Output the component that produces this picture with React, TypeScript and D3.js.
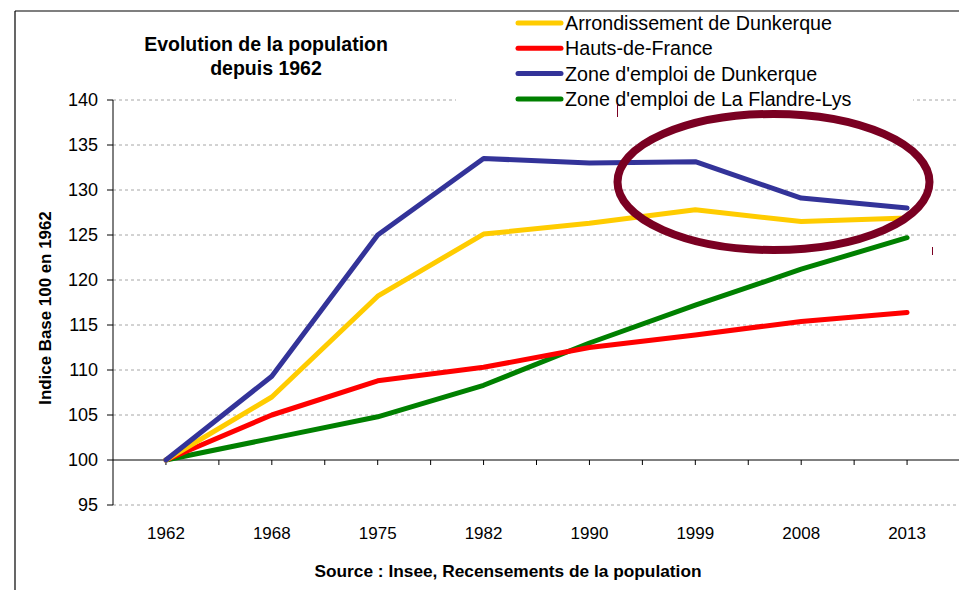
import React from "react";
import * as d3 from "d3";

const years = ["1962", "1968", "1975", "1982", "1990", "1999", "2008", "2013"];
const arrondissementDunkerque = [100, 107.0, 118.2, 125.1, 126.3, 127.8, 126.5, 126.9];
const hautsDeFrance = [100, 105.0, 108.8, 110.3, 112.5, 113.9, 115.4, 116.4];
const zoneDunkerque = [100, 109.3, 125.0, 133.5, 133.0, 133.15, 129.1, 128.0];
const zoneFlandreLys = [100, 102.4, 104.8, 108.3, 113.0, 117.2, 121.2, 124.7];
const yTicks = [95, 100, 105, 110, 115, 120, 125, 130, 135, 140];

const seriesNames = [
  "Arrondissement de Dunkerque",
  "Hauts-de-France",
  "Zone d'emploi de Dunkerque",
  "Zone d'emploi de La Flandre-Lys",
];
const seriesValues = [arrondissementDunkerque, hautsDeFrance, zoneDunkerque, zoneFlandreLys];
const seriesColors = ["#FFCC00", "#FF0000", "#333399", "#008000"];
// drawing order (back to front)
const drawOrder = [3, 1, 0, 2];

export default function App() {
  const W = 959, H = 590;
  const x = d3.scaleBand<string>().domain(years).range([113, 960]).padding(0);
  const y = d3.scaleLinear().domain([95, 140]).range([505, 100]);
  const cx = (yr: string) => (x(yr) as number) + x.bandwidth() / 2;
  const line = d3
    .line<number>()
    .x((_, i) => cx(years[i]))
    .y((v) => y(v));
  const halfTicks = d3.range(1, years.length * 2).map((k) => 113 + (k * x.bandwidth()) / 2);
  const font = "Liberation Sans, Arial, sans-serif";

  return (
    <svg
      width={W}
      height={H}
      style={{ position: "absolute", left: 0, top: 0, background: "#fff" }}
      fontFamily={font}
    >
      <rect x={0} y={0} width={W} height={H} fill="#fff" />
      {/* outer border */}
      <line x1={15} y1={11} x2={W} y2={11} stroke="#000" strokeWidth={1.2} />
      <line x1={15} y1={11} x2={15} y2={H} stroke="#000" strokeWidth={1.2} />

      {/* gridlines */}
      {yTicks
        .filter((t) => t !== 100)
        .map((t) => (
          <line
            key={"g" + t}
            x1={113}
            x2={958}
            y1={y(t)}
            y2={y(t)}
            stroke="#a6a6a6"
            strokeWidth={1}
            strokeDasharray="3,3"
          />
        ))}

      {/* legend background */}
      <rect x={456} y={12} width={457} height={98} fill="#fff" />

      {/* y axis */}
      <line x1={113} x2={113} y1={y(140)} y2={y(95)} stroke="#000" strokeWidth={1} />
      {yTicks.map((t) => (
        <g key={"yt" + t}>
          <line x1={107} x2={113} y1={y(t)} y2={y(t)} stroke="#000" />
          <text x={98} y={y(t)} dy="0.35em" textAnchor="end" fontSize={18} fill="#000">
            {t}
          </text>
        </g>
      ))}

      {/* x axis at 100 */}
      <line x1={113} x2={960} y1={y(100)} y2={y(100)} stroke="#000" strokeWidth={1} />
      {halfTicks.map((t, i) => (
        <line key={"xt" + i} x1={t} x2={t} y1={y(100)} y2={y(100) + 5} stroke="#000" />
      ))}
      {years.map((yr) => (
        <text key={"xl" + yr} x={cx(yr)} y={539} textAnchor="middle" fontSize={17} fill="#000">
          {yr}
        </text>
      ))}

      {/* series */}
      {drawOrder.map((i) => (
        <path
          key={"s" + i}
          d={line(seriesValues[i]) as string}
          fill="none"
          stroke={seriesColors[i]}
          strokeWidth={5}
          strokeLinejoin="round"
          strokeLinecap="round"
        />
      ))}

      {/* legend */}
      {seriesNames.map((n, i) => (
        <g key={"lg" + i}>
          <line
            x1={518}
            x2={561}
            y1={23 + i * 25.3}
            y2={23 + i * 25.3}
            stroke={seriesColors[i]}
            strokeWidth={5}
            strokeLinecap="round"
          />
          <text x={565} y={23 + i * 25.3} dy="0.36em" fontSize={19.7} fill="#000">
            {n}
          </text>
        </g>
      ))}

      {/* titles */}
      <text x={266} y={51} textAnchor="middle" fontSize={19.5} fontWeight="bold" fill="#000">
        Evolution de la population
      </text>
      <text x={266} y={75} textAnchor="middle" fontSize={19.5} fontWeight="bold" fill="#000">
        depuis 1962
      </text>
      <text
        transform="translate(51,308) rotate(-90)"
        textAnchor="middle"
        fontSize={16.9}
        fontWeight="bold"
        fill="#000"
      >
        Indice Base 100 en 1962
      </text>
      <text x={508} y={577} textAnchor="middle" fontSize={17.3} fontWeight="bold" fill="#000">
        Source : Insee, Recensements de la population
      </text>

      {/* highlight ellipse */}
      <ellipse cx={773.5} cy={182} rx={156} ry={68} fill="none" stroke="#7A0022" strokeWidth={8} />
      <line x1={617.5} x2={617.5} y1={104} y2={117} stroke="#7A0022" strokeWidth={1} />
      <line x1={932.5} x2={932.5} y1={247} y2={255} stroke="#7A0022" strokeWidth={1} />
    </svg>
  );
}
